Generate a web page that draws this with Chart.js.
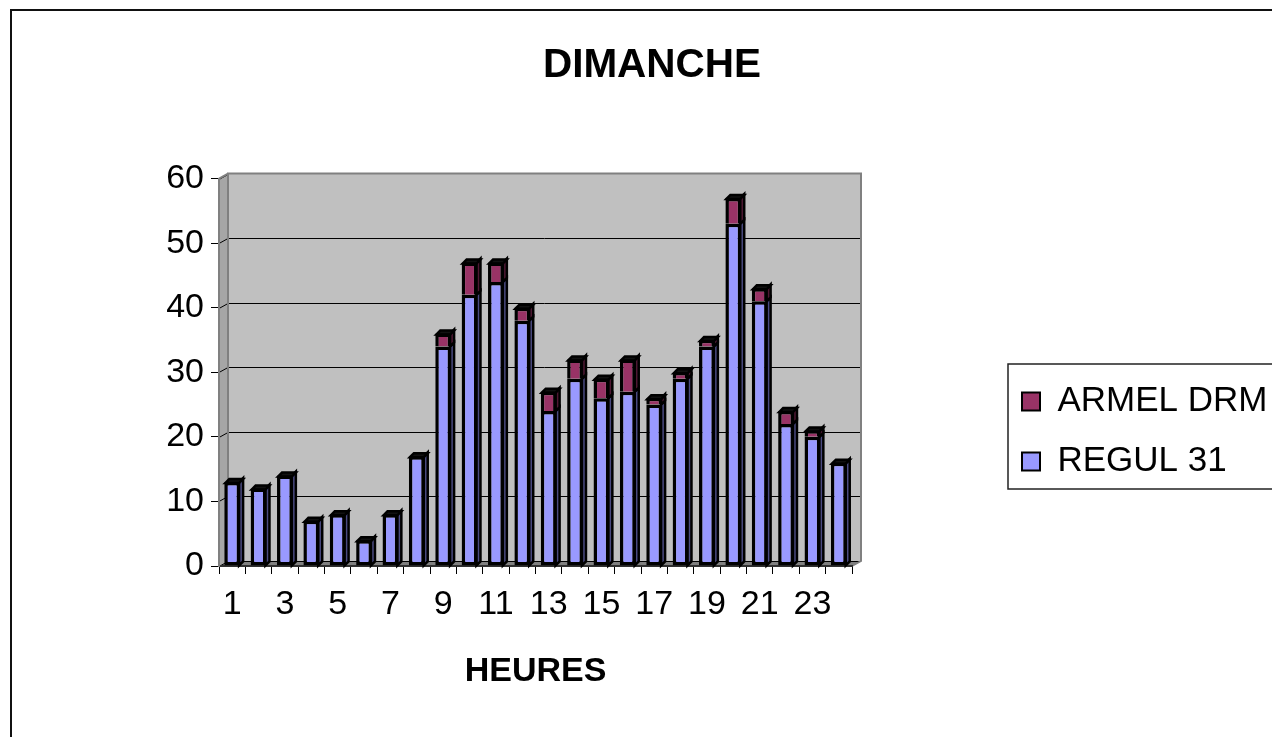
<!DOCTYPE html>
<html>
<head>
<meta charset="utf-8">
<script src="https://cdn.jsdelivr.net/npm/chart.js@4/dist/chart.umd.min.js"></script>
<style>
html,body{margin:0;padding:0;overflow:hidden;background:#fff;width:1272px;height:737px;}
#frame{position:absolute;left:10px;top:9px;width:1280px;height:760px;border-left:2px solid #111;border-top:2px solid #111;}
canvas{display:block;}
</style>
</head>
<body>
<div id="frame"><canvas id="c" width="1280" height="760"></canvas></div>
<script>
// ---- data ----
const hours = ['1','2','3','4','5','6','7','8','9','10','11','12','13','14','15','16','17','18','19','20','21','22','23','24'];
const regul31 = [13,12,14,7,8,4,8,17,34,42,44,38,24,29,26,27,25,29,34,53,41,22,20,16];
const armelDrm = [0,0,0,0,0,0,0,0,2,5,3,2,3,3,3,5,1,1,1,4,2,2,1,0];
const yTickValues = [0,10,20,30,40,50,60];
const seriesNames = ['REGUL 31','ARMEL DRM'];
const titleText = 'DIMANCHE';
const xTitleText = 'HEURES';

// ---- style ----
const FONT = "'Liberation Sans', Arial, sans-serif";
const DX = 9, DY = -5;    // wall depth
const BDX = 4, BDY = -4;  // bar depth
const fronts = ['#9999FF', '#993366'];
const sides = ['#4A4A80', '#4E1833'];

function poly(ctx, pts){
  ctx.beginPath();
  ctx.moveTo(pts[0][0], pts[0][1]);
  for (let k = 1; k < pts.length; k++) ctx.lineTo(pts[k][0], pts[k][1]);
  ctx.closePath();
}

const depthPlugin = {
  id: 'depth3d',
  afterLayout(chart){
    const lg = chart.legend;
    lg.left = 985; lg.right = lg.left + lg.width;
    lg.top = 348; lg.bottom = lg.top + 400;
  },
  beforeDraw(chart){
    const {ctx, chartArea: a, scales: {y}} = chart;
    ctx.save();
    ctx.fillStyle = '#C0C0C0';
    ctx.fillRect(a.left + DX, a.top + DY, a.right - a.left, a.bottom - a.top);
    ctx.fillStyle = '#A6A6A6';
    poly(ctx, [[a.left, a.top], [a.left + DX, a.top + DY], [a.left + DX, a.bottom + DY], [a.left, a.bottom]]);
    ctx.fill();
    ctx.fillStyle = '#808080';
    poly(ctx, [[a.left, a.bottom], [a.left + DX, a.bottom + DY], [a.right + DX, a.bottom + DY], [a.right, a.bottom]]);
    ctx.fill();
    ctx.strokeStyle = '#000';
    ctx.lineWidth = 1;
    y.ticks.forEach(t => {
      const py = Math.round(y.getPixelForValue(t.value)) + 0.5;
      ctx.beginPath();
      ctx.moveTo(a.left, py);
      ctx.lineTo(a.left + DX, py + DY);
      if (t.value < y.max) ctx.lineTo(a.right + DX, py + DY);
      ctx.stroke();
    });
    ctx.strokeStyle = '#808080';
    ctx.lineWidth = 2;
    ctx.beginPath();
    ctx.moveTo(a.left + DX, a.bottom + DY);
    ctx.lineTo(a.left + DX, a.top + DY);
    ctx.lineTo(a.right + DX, a.top + DY);
    ctx.lineTo(a.right + DX, a.bottom + DY);
    ctx.lineTo(a.right, a.bottom);
    ctx.stroke();
    ctx.beginPath();
    ctx.moveTo(a.left, a.top);
    ctx.lineTo(a.left + DX, a.top + DY);
    ctx.stroke();
    ctx.restore();
  },
  beforeDatasetsDraw(chart){
    const ctx = chart.ctx;
    ctx.save();
    ctx.strokeStyle = '#000';
    ctx.lineWidth = 2.5;
    ctx.lineJoin = 'miter';
    chart.data.datasets.forEach((ds, di) => {
      const meta = chart.getDatasetMeta(di);
      meta.data.forEach((bar, i) => {
        const p = bar.getProps(['x', 'y', 'base', 'width'], true);
        const top = Math.min(p.y, p.base), bot = Math.max(p.y, p.base);
        if (bot - top < 0.5) return;
        const l = p.x - p.width / 2, r = p.x + p.width / 2;
        ctx.fillStyle = sides[di];
        poly(ctx, [[r - 1, top], [r - 1 + BDX, top + BDY], [r - 1 + BDX, bot + BDY], [r - 1, bot]]);
        ctx.fill(); ctx.stroke();
        const above = chart.data.datasets.slice(di + 1).some(d => d.data[i] > 0);
        if (!above) {
          poly(ctx, [[l + 1, top + 1], [l + 1 + BDX, top + 1 + BDY], [r + BDX - 1, top + 1 + BDY], [r - 1, top + 1]]);
          ctx.fillStyle = '#111';
          ctx.fill(); ctx.stroke();
        }
      });
    });
    ctx.restore();
  },
  afterDraw(chart){
    const ctx = chart.ctx, lg = chart.legend;
    ctx.save();
    ctx.strokeStyle = '#222';
    ctx.lineWidth = 1.5;
    ctx.strokeRect(lg.left + 11, lg.top + 5, 400, 125);
    ctx.restore();
  }
};

new Chart(document.getElementById('c'), {
  type: 'bar',
  data: {
    labels: hours,
    datasets: [
      { label: seriesNames[0], data: regul31, backgroundColor: fronts[0], borderColor: '#000', borderWidth: 3.5, borderSkipped: false },
      { label: seriesNames[1], data: armelDrm, backgroundColor: fronts[1], borderColor: '#000', borderWidth: 3.5, borderSkipped: 'bottom' }
    ]
  },
  options: {
    responsive: false,
    animation: false,
    devicePixelRatio: 1,
    barPercentage: 0.6,
    categoryPercentage: 1.0,
    layout: { padding: 0 },
    plugins: {
      title: {
        display: true, text: titleText, color: '#000',
        font: { family: FONT, size: 40.5, weight: 'bold' },
        padding: { top: 31, bottom: 88 }
      },
      legend: {
        position: 'chartArea', align: 'start', reverse: true,
        labels: {
          color: '#000', boxWidth: 18, boxHeight: 18, padding: 25,
          font: { family: FONT, size: 35 },
          generateLabels(chart){
            return Chart.defaults.plugins.legend.labels.generateLabels(chart).map(it => Object.assign(it, { lineWidth: 2, strokeStyle: '#000' }));
          }
        }
      },
      tooltip: { enabled: false }
    },
    scales: {
      x: {
        stacked: true,
        grid: { offset: true, drawOnChartArea: false, drawTicks: true, tickLength: 8, color: '#000', lineWidth: 1 },
        border: { display: true, color: '#303030', width: 2 },
        ticks: {
          autoSkip: false, maxRotation: 0, minRotation: 0, padding: 10, color: '#000',
          font: { family: FONT, size: 34 },
          callback(v, i){ return i % 2 === 0 ? hours[i] : ''; }
        },
        title: { display: true, text: xTitleText, color: '#000', font: { family: FONT, size: 34, weight: 'bold' }, padding: { top: 0, bottom: 79 } },
        afterFit(s){ s.height = 205; }
      },
      y: {
        stacked: true, min: 0, max: 60,
        afterBuildTicks(s){ s.ticks = yTickValues.map(v => ({ value: v })); },
        grid: { drawOnChartArea: false, drawTicks: true, tickLength: 8, color: '#000' },
        border: { display: true, color: '#808080', width: 2 },
        ticks: { padding: 7, color: '#000', font: { family: FONT, size: 34 } },
        afterFit(s){ s.width = 207; }
      },
      y2: {
        type: 'linear', position: 'right', display: true,
        grid: { display: false, drawTicks: false },
        border: { display: false },
        ticks: { display: false },
        afterFit(s){ s.width = 440; }
      }
    }
  },
  plugins: [depthPlugin]
});
</script>
</body>
</html>
